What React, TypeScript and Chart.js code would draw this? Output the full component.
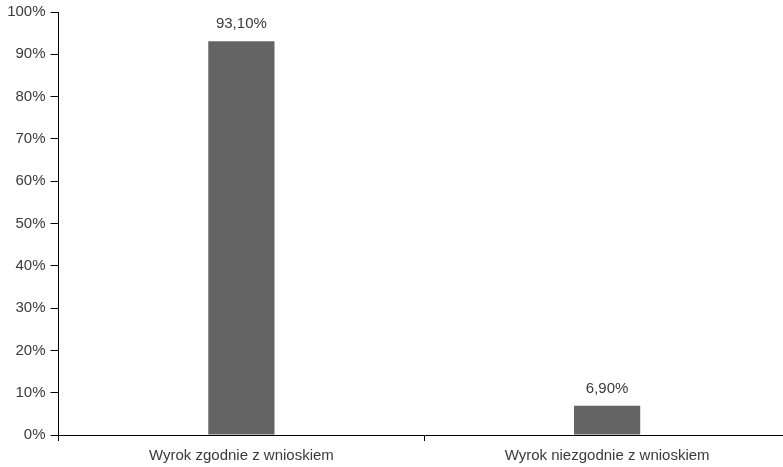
import React, { useEffect, useRef } from "react";
import { Chart, registerables } from "chart.js";

Chart.register(...registerables);

const categories = ["Wyrok zgodnie z wnioskiem", "Wyrok niezgodnie z wnioskiem"];
const values = [93.1, 6.9];
const valueLabels = ["93,10%", "6,90%"];
const yTicks = [0, 10, 20, 30, 40, 50, 60, 70, 80, 90, 100];

const FONT = "'Liberation Sans', Arial, sans-serif";
const TEXT = "#3a3a3a";

const labelPlugin = {
  id: "valueLabels",
  afterDatasetsDraw(chart: any) {
    const ctx = chart.ctx;
    const meta = chart.getDatasetMeta(0);
    ctx.save();
    ctx.font = `15px ${FONT}`;
    ctx.fillStyle = TEXT;
    ctx.textAlign = "center";
    ctx.textBaseline = "alphabetic";
    meta.data.forEach((bar: any, i: number) => {
      ctx.fillText(valueLabels[i], bar.x, bar.y - 13);
    });
    ctx.restore();
  },
};

export default function App() {
  const ref = useRef<HTMLCanvasElement | null>(null);
  useEffect(() => {
    if (!ref.current) return;
    const chart = new Chart(ref.current, {
      type: "bar",
      data: {
        labels: categories,
        datasets: [
          {
            data: values,
            backgroundColor: "#646464",
            borderWidth: 0,
            categoryPercentage: 1,
            barPercentage: 0.181,
          },
        ],
      },
      options: {
        responsive: false,
        animation: false,
        layout: { padding: { top: 12, left: 0, right: 10, bottom: 0 } },
        plugins: { legend: { display: false }, tooltip: { enabled: false } },
        scales: {
          x: {
            grid: { drawOnChartArea: false, drawTicks: true, tickLength: 6, color: "#000", offset: true },
            border: { display: true, color: "#000", width: 1 },
            ticks: { font: { size: 15, family: FONT }, color: TEXT, padding: 6, maxRotation: 0 },
            afterFit: (s: any) => { s.height = 32; s.paddingLeft = 0; s.paddingRight = 0; },
          },
          y: {
            min: 0,
            max: 100,
            afterBuildTicks: (s: any) => { s.ticks = yTicks.map((v) => ({ value: v })); },
            grid: { drawOnChartArea: false, drawTicks: true, tickLength: 8, color: "#000" },
            border: { display: true, color: "#000", width: 1 },
            ticks: {
              font: { size: 15, family: FONT },
              color: TEXT,
              padding: 5,
              callback: (v: any) => v + "%",
            },
            afterFit: (s: any) => { s.width = 58.5; s.paddingTop = 0; s.paddingBottom = 0; },
          },
        },
      },
      plugins: [labelPlugin],
    });
    return () => chart.destroy();
  }, []);
  return (
    <div style={{ position: "fixed", left: 0, top: 0, width: 783, height: 467, overflow: "hidden", background: "#fff" }}>
      <canvas ref={ref} width={800} height={467} style={{ display: "block" }} />
    </div>
  );
}
